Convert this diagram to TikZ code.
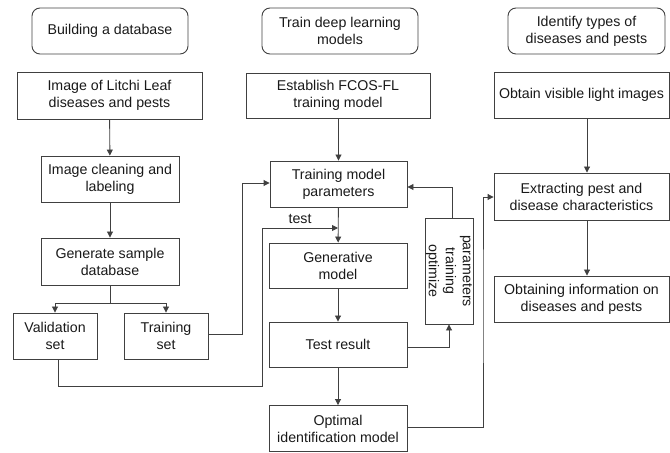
\documentclass[tikz,border=0pt]{standalone}
\usepackage{fontspec}
\setmainfont{Liberation Sans}
\usetikzlibrary{arrows.meta}
\begin{document}
\begin{tikzpicture}[x=1bp,y=-1bp,
  every node/.style={font=\fontsize{14.2bp}{17bp}\selectfont, text=black!90},
  box/.style={draw=black!75, line width=0.9bp, align=center, inner sep=0pt},
  hbox/.style={box, rounded corners=8bp},
  conn/.style={draw=black!75, line width=0.9bp},
  arr/.style={conn, -{Triangle[width=6bp,length=6bp]}}]
\useasboundingbox (0,0) rectangle (670,453);
% headers
\node[hbox, minimum width=156bp, minimum height=46bp] (h1) at (110,31) {Building a database};
\node[hbox, minimum width=156bp, minimum height=46bp] (h2) at (340,31) {Train deep learning\\models};
\node[hbox, minimum width=157bp, minimum height=46bp] (h3) at (586.5,31) {Identify types of\\diseases and pests};
% column 1
\node[box, minimum width=185bp, minimum height=47bp] (a1) at (109.5,95.5) {Image of Litchi Leaf\\diseases and pests};
\node[box, minimum width=138bp, minimum height=46bp] (a2) at (110,179) {Image cleaning and\\labeling};
\node[box, minimum width=138bp, minimum height=47bp] (a3) at (110,261.5) {Generate sample\\database};
\node[box, minimum width=84bp, minimum height=46bp] (a4) at (55,336) {Validation\\set};
\node[box, minimum width=84bp, minimum height=46bp] (a5) at (166,336) {Training\\set};
% column 2
\node[box, minimum width=184bp, minimum height=45bp] (b1) at (338,95.5) {Establish FCOS-FL\\training model};
\node[box, minimum width=137bp, minimum height=46bp] (b2) at (338.5,184) {Training model\\parameters};
\node[box, minimum width=138bp, minimum height=45bp] (b3) at (338,265.5) {Generative\\model};
\node[box, minimum width=138bp, minimum height=45bp] (b4) at (338,344.5) {Test result};
\node[box, minimum width=138bp, minimum height=46bp] (b5) at (338,428.5) {Optimal\\identification model};
\node[box, minimum width=48bp, minimum height=106bp] (p) at (449,271) {};
\node[rotate=-90, align=center, inner sep=0pt] (pt) at (p.center) {parameters\\training\\optimize};
% column 3
\node[box, minimum width=175bp, minimum height=46bp] (c1) at (581.5,95) {Obtain visible light images};
\node[box, minimum width=175bp, minimum height=47bp] (c2) at (581.5,196.5) {Extracting pest and\\disease characteristics};
\node[box, minimum width=175bp, minimum height=46bp] (c3) at (581.5,299) {Obtaining information on\\diseases and pests};
% coordinates
\coordinate (s1) at (110,303);
\coordinate (tv) at (58,386);
\coordinate (tt) at (262,386);
\coordinate (tu) at (262,228);
\coordinate (tj) at (338,228);
\coordinate (tr) at (242,334);
\coordinate (tq) at (242,183);
% connectors col 1
\draw[arr] (a1) -- (a2);
\draw[arr] (a2) -- (a3);
\draw[conn] (a3) -- (s1);
\draw[arr] (s1) -| (a4.north);
\draw[arr] (s1) -| (a5.north);
\draw[conn] (a5.east |- tr) -- (tr) -- (tq);
\draw[arr] (tq) -- (b2.west |- tq);
\draw[conn] (a4.south -| tv) -- (tv) -- (tt) -- (tu);
\draw[arr] (tu) -- (tj) node[midway, above=1bp, pos=0.5] (tl) {test};
% col 2
\draw[arr] (b1.south -| b2.north) -- (b2.north);
\draw[arr] (b2) -- (b3);
\draw[arr] (b3) -- (b4);
\draw[arr] (b4) -- (b5);
\draw[arr] (b4.east |- 0,347) -| (p.south);
\draw[arr] (p.north -| 452,0) |- (b2.east |- 0,187);
\draw[arr] (b5.east |- 0,427) -| (483,300) |- (c2.west |- 0,197);
% col 3
\draw[arr] (c1.south -| 587,0) -- (c2.north -| 587,0);
\draw[arr] (c2.south -| 587,0) -- (c3.north -| 587,0);
\end{tikzpicture}
\end{document}
